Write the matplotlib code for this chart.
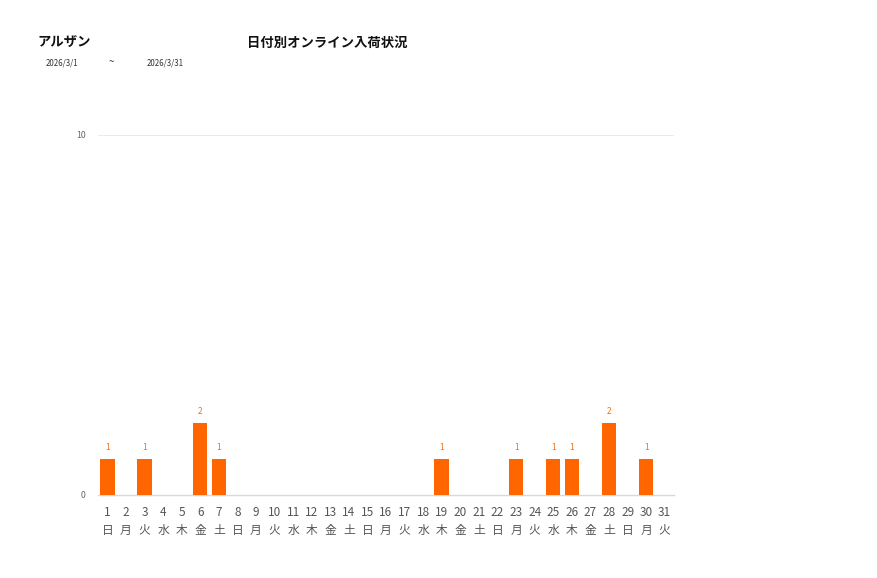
import matplotlib
matplotlib.use("Agg")
import matplotlib.pyplot as plt

plt.rcParams['font.family'] = ['Noto Sans CJK JP', 'DejaVu Sans']

days = list(range(1, 32))
weekdays = ["日","月","火","水","木","金","土"] * 5
weekdays = weekdays[:31]
values = [1,0,1,0,0,2,1,0,0,0,0,0,0,0,0,0,0,0,1,0,0,0,1,0,1,1,0,2,0,1,0]

shop = "アルザン"
title = "日付別オンライン入荷状況"
date_from = "2026/3/1"
date_to = "2026/3/31"

W, H = 877, 578
fig = plt.figure(figsize=(W/100, H/100), dpi=100)
ax = fig.add_axes([98/W, 1-495/H, (674-98)/W, (495-135)/H])

bar_color = "#FF6600"
ax.bar(days, values, width=0.78, color=bar_color, zorder=3)
for d, v in zip(days, values):
    if v > 0:
        ax.text(d, v + 0.2, str(v), ha="center", va="bottom", fontsize=6, color="#F07010")

ax.set_xlim(0.5, 31.5)
ax.set_ylim(0, 10)
ax.set_yticks([0, 10])
ax.set_yticklabels(["0", "10"], fontsize=6.3, color="#666666")
ax.axhline(10, color="#E6E6E6", lw=1.2, zorder=1)
ax.tick_params(axis="y", length=0, pad=9)
ax.tick_params(axis="x", length=0, pad=8)
ax.set_xticks(days)
ax.set_xticklabels([f"{d}\n{w}" for d, w in zip(days, weekdays)], fontsize=8.5,
                   color="#555555", linespacing=1.45)
for s in ["top", "right", "left"]:
    ax.spines[s].set_visible(False)
ax.spines["bottom"].set_color("#D9D9D9")
ax.spines["bottom"].set_linewidth(1.0)

fig.text(37/W, 1-43/H, shop, fontsize=9.6, fontweight="bold", va="center", ha="left", color="#111111")
fig.text(247/W, 1-43/H, title, fontsize=9.6, fontweight="bold", va="center", ha="left", color="#111111")
fig.text(46/W, 1-63/H, date_from, fontsize=5.7, va="center", ha="left", color="#333333")
fig.text(109/W, 1-62/H, "~", fontsize=7, va="center", ha="left", color="#333333")
fig.text(147/W, 1-63/H, date_to, fontsize=5.7, va="center", ha="left", color="#333333")

fig.savefig("out.png", dpi=100)
